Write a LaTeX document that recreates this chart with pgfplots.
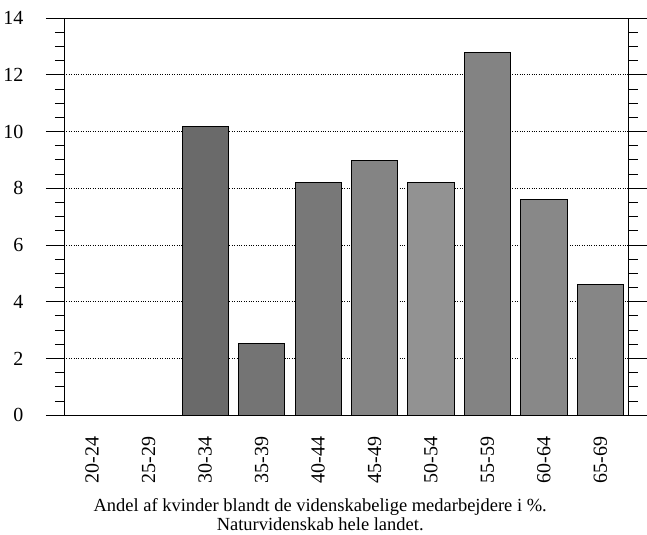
\documentclass[border=0pt]{standalone}
\usepackage{pgfplots}
\pgfplotsset{compat=1.18}
\usepackage{fontspec}
\setmainfont{Liberation Serif}
\definecolor{b1}{HTML}{6A6A6A}
\definecolor{b2}{HTML}{747474}
\definecolor{b3}{HTML}{787878}
\definecolor{b4}{HTML}{848484}
\definecolor{b5}{HTML}{929292}
\definecolor{b6}{HTML}{838383}
\definecolor{b7}{HTML}{888888}
\definecolor{b8}{HTML}{868686}
\begin{document}
\begin{tikzpicture}
\begin{axis}[
  scale only axis,
  width=563bp, height=396bp,
  xmin=-0.5, xmax=9.5,
  ymin=0, ymax=14,
  ytick={0,2,...,14},
  minor y tick num=3,
  xtick={0,...,9},
  xticklabels={20-24,25-29,30-34,35-39,40-44,45-49,50-54,55-59,60-64,65-69},
  x tick label style={rotate=90, anchor=east, font=\fontsize{20}{24}\selectfont},
  y tick label style={font=\fontsize{20}{24}\selectfont, xshift=-19bp},
  /pgf/number format/assume math mode=true,
  tick align=outside,
  ytick pos=both,
  yticklabel pos=left,
  major tick length=18bp,
  minor tick length=9bp,
  major x tick style={draw=none},
  tick style={black, line width=0.8pt},
  axis line style={line width=0.8pt},
  ymajorgrids,
  grid style={dash pattern=on 0.8pt off 1.6pt, black, line width=0.6pt},
  xlabel={Andel af kvinder blandt de videnskabelige medarbejdere i \%.\\Naturvidenskab hele landet.},
  xlabel style={align=center, font=\fontsize{18.5}{19.5}\selectfont, xshift=-26bp, yshift=-8bp},
]
\addplot[ybar, bar width=0.82, bar shift=0, fill=b1, draw=black, line width=0.6pt] coordinates {(2,10.2)};
\addplot[ybar, bar width=0.82, bar shift=0, fill=b2, draw=black, line width=0.6pt] coordinates {(3,2.55)};
\addplot[ybar, bar width=0.82, bar shift=0, fill=b3, draw=black, line width=0.6pt] coordinates {(4,8.2)};
\addplot[ybar, bar width=0.82, bar shift=0, fill=b4, draw=black, line width=0.6pt] coordinates {(5,9.0)};
\addplot[ybar, bar width=0.82, bar shift=0, fill=b5, draw=black, line width=0.6pt] coordinates {(6,8.2)};
\addplot[ybar, bar width=0.82, bar shift=0, fill=b6, draw=black, line width=0.6pt] coordinates {(7,12.8)};
\addplot[ybar, bar width=0.82, bar shift=0, fill=b7, draw=black, line width=0.6pt] coordinates {(8,7.6)};
\addplot[ybar, bar width=0.82, bar shift=0, fill=b8, draw=black, line width=0.6pt] coordinates {(9,4.6)};
\end{axis}
\end{tikzpicture}
\end{document}
